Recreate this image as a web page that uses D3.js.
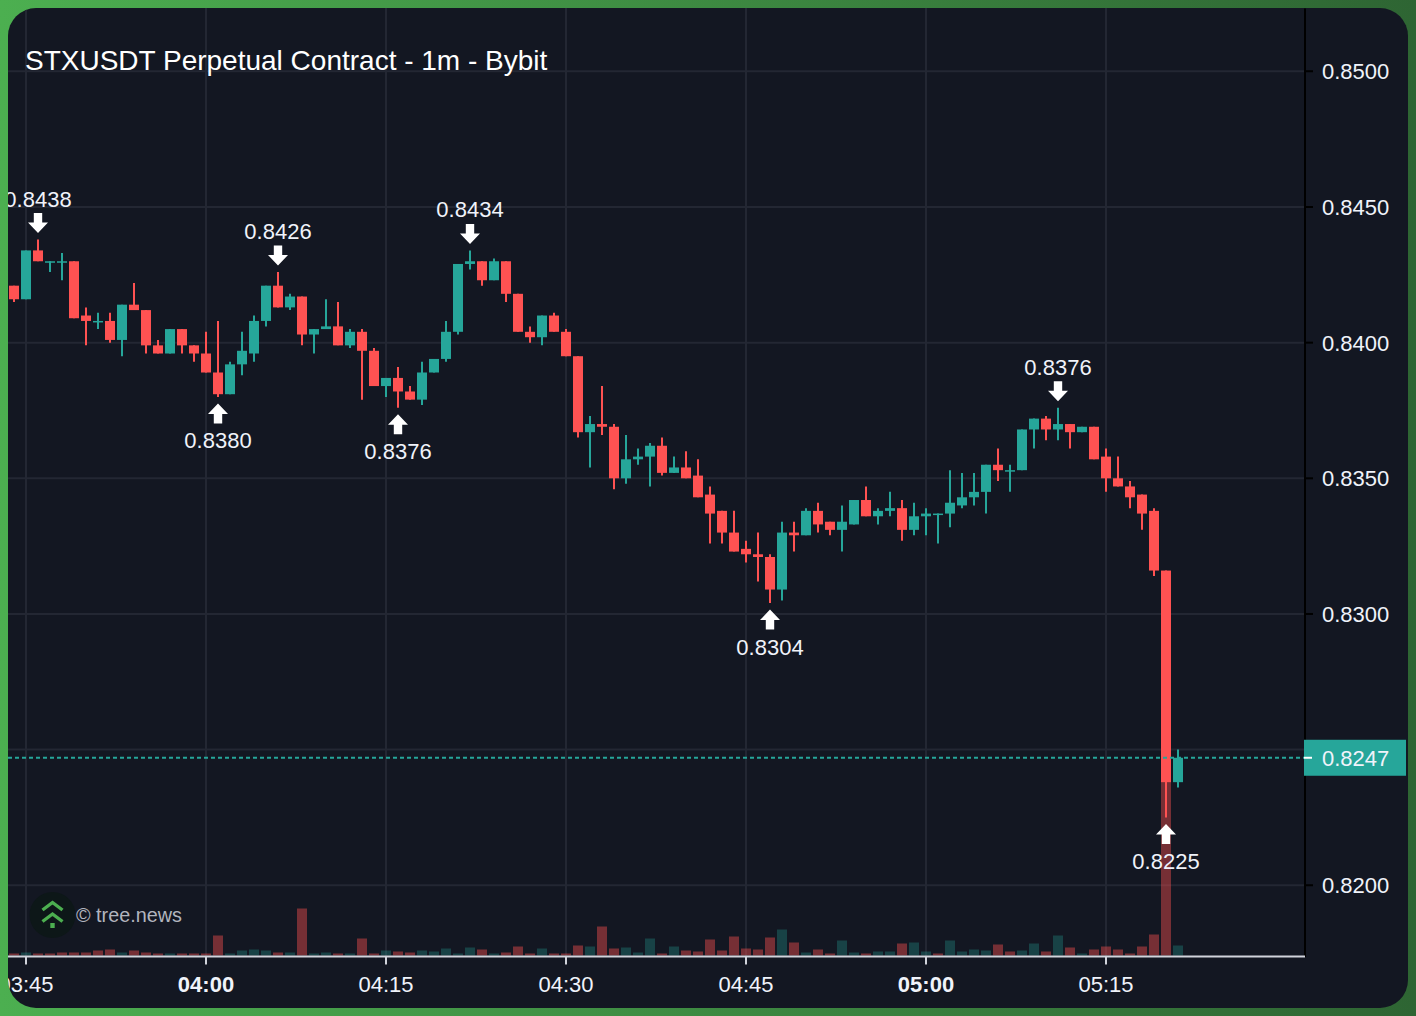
<!DOCTYPE html>
<html>
<head>
<meta charset="utf-8">
<script src="https://cdn.jsdelivr.net/npm/d3@7/dist/d3.min.js"></script>
<style>
html,body{margin:0;padding:0;width:1416px;height:1016px;overflow:hidden;background:linear-gradient(90deg,#4caf50 0%,#2e6533 100%);}
svg{display:block;font-family:"Liberation Sans",Arial,sans-serif;}
</style>
</head>
<body>
<svg id="chart" width="1416" height="1016"></svg>
<script>
const titleText = "STXUSDT Perpetual Contract - 1m - Bybit";
const watermark = "© tree.news";
const firstBarTime = "2024-01-01T03:44:00Z";
const gridPrices = [0.82,0.825,0.83,0.835,0.84,0.845,0.85];
const priceTicks = [0.82,0.83,0.835,0.84,0.845,0.85];
const timeTicks = ["03:45","04:00","04:15","04:30","04:45","05:00","05:15"];
const boldTimes = ["04:00","05:00"];
const lastPrice = 0.8247;

const opens = [0.8421,0.8416,0.8434,0.8430,0.8430,0.8430,0.8410,0.8408,0.8408,0.8401,0.8414,0.8412,0.8399,0.8396,0.8405,0.8399,0.8396,0.8389,0.8381,0.8392,0.8396,0.8408,0.8421,0.8413,0.8417,0.8403,0.8405,0.8406,0.8399,0.8404,0.8397,0.8384,0.8387,0.8382,0.8379,0.8389,0.8394,0.8404,0.8429,0.8430,0.8423,0.8430,0.8418,0.8404,0.8402,0.8410,0.8404,0.8395,0.8367,0.8370,0.8369,0.8350,0.8357,0.8358,0.8362,0.8352,0.8354,0.8351,0.8344,0.8338,0.8330,0.8324,0.8322,0.8321,0.8309,0.8330,0.8329,0.8338,0.8334,0.8331,0.8333,0.8342,0.8336,0.8338,0.8339,0.8331,0.8336,0.8337,0.8337,0.8340,0.8343,0.8345,0.8355,0.8353,0.8353,0.8368,0.8372,0.8368,0.8370,0.8367,0.8369,0.8358,0.8350,0.8347,0.8344,0.8338,0.8316,0.8238];
const highs = [0.8421,0.8434,0.8438,0.8430,0.8433,0.8430,0.8413,0.8411,0.8411,0.8414,0.8422,0.8412,0.8401,0.8405,0.8405,0.8399,0.8404,0.8408,0.8393,0.8404,0.8410,0.8421,0.8426,0.8418,0.8417,0.8405,0.8416,0.8415,0.8405,0.8405,0.8398,0.8387,0.8391,0.8384,0.8393,0.8394,0.8408,0.8429,0.8434,0.8430,0.8431,0.8430,0.8418,0.8406,0.8410,0.8411,0.8405,0.8395,0.8373,0.8384,0.8370,0.8366,0.8361,0.8363,0.8365,0.8358,0.8360,0.8357,0.8347,0.8338,0.8338,0.8327,0.8330,0.8322,0.8334,0.8334,0.8339,0.8341,0.8334,0.8340,0.8342,0.8347,0.8339,0.8345,0.8342,0.8341,0.8339,0.8337,0.8353,0.8352,0.8352,0.8355,0.8361,0.8355,0.8368,0.8372,0.8373,0.8376,0.8370,0.8369,0.8369,0.8361,0.8358,0.8349,0.8344,0.8339,0.8316,0.8250];
const lows = [0.8415,0.8416,0.8430,0.8426,0.8423,0.8409,0.8399,0.8405,0.8400,0.8395,0.8412,0.8396,0.8396,0.8396,0.8396,0.8393,0.8389,0.8380,0.8381,0.8388,0.8393,0.8406,0.8413,0.8412,0.8399,0.8396,0.8405,0.8399,0.8398,0.8379,0.8384,0.8380,0.8376,0.8379,0.8377,0.8389,0.8393,0.8403,0.8427,0.8421,0.8423,0.8415,0.8404,0.8400,0.8399,0.8404,0.8395,0.8365,0.8354,0.8366,0.8346,0.8348,0.8355,0.8347,0.8351,0.8352,0.8350,0.8343,0.8326,0.8326,0.8323,0.8319,0.8312,0.8304,0.8305,0.8323,0.8329,0.8330,0.8329,0.8323,0.8333,0.8336,0.8333,0.8336,0.8327,0.8329,0.8329,0.8326,0.8332,0.8339,0.8340,0.8337,0.8349,0.8345,0.8353,0.8361,0.8364,0.8364,0.8361,0.8367,0.8357,0.8345,0.8347,0.8339,0.8331,0.8314,0.8225,0.8236];
const closes = [0.8416,0.8434,0.8430,0.8430,0.8430,0.8409,0.8408,0.8408,0.8401,0.8414,0.8412,0.8399,0.8396,0.8405,0.8399,0.8396,0.8389,0.8381,0.8392,0.8397,0.8408,0.8421,0.8413,0.8417,0.8403,0.8405,0.8406,0.8399,0.8404,0.8397,0.8384,0.8387,0.8382,0.8379,0.8389,0.8394,0.8404,0.8429,0.8430,0.8423,0.8430,0.8418,0.8404,0.8402,0.8410,0.8404,0.8395,0.8367,0.8370,0.8369,0.8350,0.8357,0.8358,0.8362,0.8352,0.8354,0.8350,0.8343,0.8337,0.8330,0.8323,0.8322,0.8321,0.8309,0.8330,0.8329,0.8338,0.8333,0.8331,0.8334,0.8342,0.8336,0.8338,0.8339,0.8331,0.8336,0.8337,0.8337,0.8341,0.8343,0.8345,0.8355,0.8353,0.8353,0.8368,0.8372,0.8368,0.8370,0.8367,0.8369,0.8357,0.8350,0.8347,0.8343,0.8337,0.8316,0.8238,0.8247];
const volumes = [2,3,2,2,3,3,3,5,6,3,5,3,2,2,2,2,2,20,2,5,6,5,3,3,47,2,3,2,2,17,2,5,4,3,5,4,7,2,8,6,2,3,9,2,7,2,2,10,9,29,7,8,3,17,2,9,5,4,16,5,19,7,6,18,26,13,3,6,2,15,3,2,4,4,12,13,4,2,15,4,6,5,11,4,5,12,4,20,8,2,6,9,6,2,9,21,190,10];
const volumeDirs = "d u d d d d d d d u d d d u d d d d u u u u d u d u u d u d d u d d u u u u u d u d d d u d d d u d d u u u d u d d d d d d d d u d u d d u u d u u d u u d u u u u d d u u d u d u d d d d d d d u".split(" ");

const markerBars = [2,17,22,32,38,63,87,96];
const markerSides = ["above","below","above","below","above","below","above","below"];
const markerTexts = ["0.8438","0.8380","0.8426","0.8376","0.8434","0.8304","0.8376","0.8225"];

const bars = opens.map((o,i)=>({t:new Date(new Date(firstBarTime).getTime()+i*60000),o,h:highs[i],l:lows[i],c:closes[i],v:volumes[i],vd:volumeDirs[i]}));
const markers = markerBars.map((b,i)=>({bar:bars[b],side:markerSides[i],text:markerTexts[i]}));

const UP="#26a69a", DOWN="#ff5252", BG="#131722", GRID="#232733", TXT="#f0f3fa";
const pL=8,pR=1408,pT=8,pB=1008,axisX=1305,axisY=956.5;

const svg=d3.select("#chart");
const defs=svg.append("defs");
defs.append("clipPath").attr("id","panel").append("rect").attr("x",pL).attr("y",pT).attr("width",pR-pL).attr("height",pB-pT).attr("rx",28);
defs.append("clipPath").attr("id","plot").append("rect").attr("x",pL).attr("y",pT).attr("width",axisX-pL).attr("height",axisY-pT);

const root=svg.append("g").attr("clip-path","url(#panel)");
root.append("rect").attr("x",pL).attr("y",pT).attr("width",pR-pL).attr("height",pB-pT).attr("fill",BG);

const x=d3.scaleUtc().domain([new Date("2024-01-01T03:43:30Z"),new Date("2024-01-01T05:31:35Z")]).range([pL,axisX]);
const y=d3.scaleLinear().domain([0.81736,0.85232]).range([axisY+0.4,pT+0.4]);
const vY=d3.scaleLinear().domain([0,200]).range([955.5,755.5]);
const tickDates=timeTicks.map(s=>new Date("2024-01-01T"+s+":00Z"));
const fmtT=d3.utcFormat("%H:%M");

const plot=root.append("g").attr("clip-path","url(#plot)");
plot.append("g").selectAll("line").data(gridPrices).join("line")
  .attr("x1",pL).attr("x2",axisX).attr("y1",d=>y(d)).attr("y2",d=>y(d)).attr("stroke",GRID).attr("stroke-width",2);
plot.append("g").selectAll("line").data(tickDates).join("line")
  .attr("x1",d=>x(d)).attr("x2",d=>x(d)).attr("y1",pT).attr("y2",axisY).attr("stroke",GRID).attr("stroke-width",2);

const barW=10;
plot.append("g").selectAll("rect").data(bars).join("rect")
  .attr("x",d=>x(d.t)-barW/2).attr("width",barW)
  .attr("y",d=>vY(d.v)).attr("height",d=>vY(0)-vY(d.v))
  .attr("fill",d=>d.vd==="u"?"rgba(38,166,154,0.3)":"rgba(255,82,82,0.42)");

plot.append("g").selectAll("line").data(bars).join("line")
  .attr("x1",d=>x(d.t)).attr("x2",d=>x(d.t)).attr("y1",d=>y(d.h)).attr("y2",d=>y(d.l))
  .attr("stroke",d=>d.c>=d.o?UP:DOWN).attr("stroke-width",2);
plot.append("g").selectAll("rect").data(bars).join("rect")
  .attr("x",d=>x(d.t)-barW/2).attr("width",barW)
  .attr("y",d=>y(Math.max(d.o,d.c)))
  .attr("height",d=>Math.max(1.5,y(Math.min(d.o,d.c))-y(Math.max(d.o,d.c))))
  .attr("fill",d=>d.c>=d.o?UP:DOWN);

plot.append("line").attr("x1",pL).attr("x2",axisX).attr("y1",y(lastPrice)).attr("y2",y(lastPrice))
  .attr("stroke",UP).attr("stroke-width",2).attr("stroke-dasharray","4 3");

// markers: arrow glyph is a fixed shape placed by the scales
const arrowShape=[[0,0],[10,-10.5],[4.2,-10.5],[4.2,-20],[-4.2,-20],[-4.2,-10.5],[-10,-10.5]];
const arrowPath=d3.line()(arrowShape)+"Z";
const mk=root.append("g").selectAll("g").data(markers).join("g")
  .attr("transform",d=>{
    const px=x(d.bar.t);
    return d.side==="above"?`translate(${px},${y(d.bar.h)-6.5})`:`translate(${px},${y(d.bar.l)+6.5}) scale(1,-1)`;
  });
mk.append("path").attr("d",arrowPath).attr("fill","#ffffff");
mk.append("text")
  .attr("transform",d=>d.side==="above"?"translate(0,-26.5)":"scale(1,-1) translate(0,45)")
  .attr("text-anchor","middle").attr("font-size",22).attr("fill",TXT).text(d=>d.text);

// price axis
const yAxis=root.append("g").attr("transform",`translate(${axisX},0)`)
  .call(d3.axisRight(y).offset(0).tickValues(priceTicks).tickFormat(d3.format(".4f")).tickSize(8).tickSizeOuter(0).tickPadding(9));
yAxis.select(".domain").attr("stroke","#000").attr("stroke-width",2);
yAxis.selectAll(".tick line").attr("stroke","#000").attr("stroke-width",2);
yAxis.selectAll(".tick text").attr("font-size",22).attr("font-family","'Liberation Sans',Arial,sans-serif").attr("fill",TXT).attr("dy","0.36em");

// time axis
const xAxis=root.append("g").attr("transform",`translate(0,${axisY})`)
  .call(d3.axisBottom(x).offset(0).tickValues(tickDates).tickFormat(fmtT).tickSize(8).tickSizeOuter(0).tickPadding(12));
xAxis.select(".domain").attr("stroke","#d1d4dc").attr("stroke-width",2);
xAxis.selectAll(".tick line").attr("stroke","#d1d4dc").attr("stroke-width",2);
xAxis.selectAll(".tick text").attr("font-size",22).attr("font-family","'Liberation Sans',Arial,sans-serif").attr("fill",TXT)
  .attr("font-weight",d=>boldTimes.includes(fmtT(d))?"bold":"normal");

// last price label
const lastG=root.append("g");
lastG.append("rect").attr("x",axisX-1).attr("width",102).attr("y",y(lastPrice)-18).attr("height",36).attr("fill",UP);
lastG.append("line").attr("x1",axisX-1).attr("x2",axisX+7).attr("y1",y(lastPrice)).attr("y2",y(lastPrice)).attr("stroke","#fff").attr("stroke-width",2);
lastG.append("text").attr("x",axisX+17).attr("y",y(lastPrice)).attr("dy","0.36em").attr("font-size",22).attr("fill",TXT).text(d3.format(".4f")(lastPrice));

// title
root.append("text").attr("x",25).attr("y",70).attr("font-size",28).attr("fill","#ffffff").text(titleText);

// logo
const logo=root.append("g").attr("transform","translate(52.5,915)");
logo.append("circle").attr("r",23).attr("fill","#0d1718");
const chev=d3.line();
[[-10,-5,-12.5],[-10,6.5,-1]].forEach(c=>{
  logo.append("path").attr("d",chev([[c[0],c[1]],[0,c[2]],[10,c[1]]])).attr("fill","none").attr("stroke","#4caf50").attr("stroke-width",3.4);
});
logo.append("rect").attr("x",-2.2).attr("y",8).attr("width",4.4).attr("height",5).attr("fill","#4caf50");
root.append("text").attr("x",76).attr("y",922).attr("font-size",19.8).attr("fill","#b2b5be").text(watermark);
</script>
</body>
</html>
